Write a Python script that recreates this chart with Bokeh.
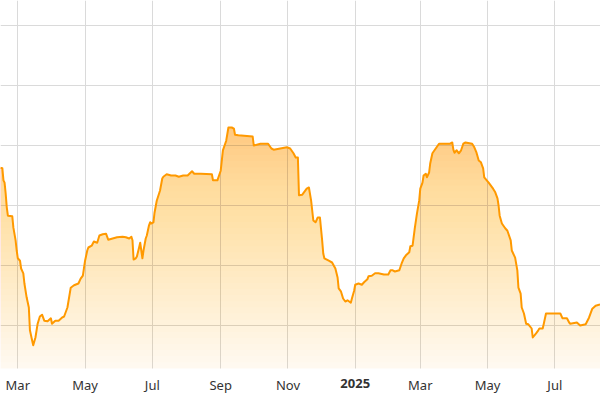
import numpy as np
import pandas as pd
from bokeh.plotting import figure
from bokeh.models import Range1d, FixedTicker, Label, BoxAnnotation
from bokeh.embed import file_html
from bokeh.resources import INLINE

# ---- data ----
dates_2024_a = [
    "2024-02-14", "2024-02-16", "2024-02-17", "2024-02-18", "2024-02-19", "2024-02-20",
    "2024-02-21", "2024-02-25", "2024-02-26", "2024-02-28", "2024-02-29",
    "2024-03-01", "2024-03-03", "2024-03-04", "2024-03-06", "2024-03-07", "2024-03-09",
    "2024-03-11", "2024-03-12", "2024-03-14", "2024-03-15", "2024-03-17", "2024-03-19",
    "2024-03-21", "2024-03-23", "2024-03-25", "2024-03-28", "2024-03-31",
    "2024-04-01", "2024-04-04", "2024-04-07", "2024-04-10", "2024-04-12", "2024-04-15",
    "2024-04-18", "2024-04-21", "2024-04-25", "2024-04-27", "2024-04-29",
    "2024-05-01", "2024-05-03", "2024-05-04", "2024-05-07", "2024-05-09", "2024-05-12",
    "2024-05-14", "2024-05-17", "2024-05-20", "2024-05-22", "2024-05-26", "2024-05-30",
    "2024-06-04", "2024-06-07", "2024-06-10", "2024-06-12", "2024-06-13", "2024-06-14",
    "2024-06-16", "2024-06-17", "2024-06-19", "2024-06-20", "2024-06-21", "2024-06-22",
    "2024-06-23", "2024-06-25", "2024-06-26", "2024-06-28", "2024-06-29", "2024-06-30",
]
values_2024_a = [
    36.3, 36.2, 34.2, 33.8, 32.0, 29.7,
    28.3, 28.2, 26.3, 24.2, 22.5,
    21.2, 20.8, 19.5, 18.7, 17.0, 14.7,
    13.0, 9.2, 7.5, 6.7, 8.0, 10.3,
    11.5, 11.8, 10.8, 10.7, 11.2,
    10.3, 10.8, 10.8, 11.3, 11.5, 13.0,
    16.3, 16.7, 17.0, 17.8, 18.3,
    20.8, 22.5, 23.0, 23.3, 24.0, 23.8,
    25.0, 25.2, 25.3, 24.3, 24.5, 24.7,
    24.8, 24.7, 24.5, 24.8, 24.2, 21.0,
    21.2, 21.5, 23.0, 23.8, 22.5, 21.2,
    22.5, 24.5, 25.0, 26.7, 27.2, 27.0,
]
dates_2024_b = [
    "2024-07-02", "2024-07-03", "2024-07-05", "2024-07-08", "2024-07-10", "2024-07-11",
    "2024-07-14", "2024-07-18", "2024-07-22", "2024-07-25", "2024-07-29",
    "2024-08-02", "2024-08-06", "2024-08-08", "2024-08-14", "2024-08-24", "2024-08-25",
    "2024-08-29",
    "2024-09-01", "2024-09-03", "2024-09-06", "2024-09-08", "2024-09-11", "2024-09-13",
    "2024-09-14", "2024-09-17", "2024-09-30",
    "2024-10-01", "2024-10-07", "2024-10-14", "2024-10-17", "2024-10-19", "2024-10-25",
    "2024-10-31",
    "2024-11-03", "2024-11-06", "2024-11-08", "2024-11-10", "2024-11-11", "2024-11-14",
    "2024-11-18", "2024-11-20", "2024-11-22", "2024-11-24", "2024-11-26", "2024-11-28",
    "2024-11-30",
    "2024-12-02", "2024-12-03", "2024-12-04", "2024-12-08", "2024-12-11", "2024-12-14",
    "2024-12-16", "2024-12-17", "2024-12-19", "2024-12-21", "2024-12-23", "2024-12-25",
    "2024-12-28", "2024-12-29", "2024-12-31",
]
values_2024_b = [
    27.2, 28.8, 30.8, 32.5, 34.5, 34.8,
    35.2, 35.0, 35.0, 34.8, 35.0,
    35.0, 35.7, 35.3, 35.3, 35.2, 34.2,
    34.2,
    35.8, 39.2, 40.8, 43.0, 43.0, 42.8,
    41.8, 41.7, 41.5,
    40.0, 40.3, 40.3, 39.5, 39.3, 39.5,
    39.7,
    39.5, 38.7, 38.0, 38.0, 31.7, 31.8,
    32.8, 33.0, 30.8, 27.5, 27.2, 28.0,
    28.0,
    24.2, 22.0, 21.2, 20.8, 20.5, 19.5,
    18.0, 16.2, 15.7, 14.5, 14.0, 14.2,
    13.8, 14.5, 15.8,
]
dates_2025 = [
    "2025-01-01", "2025-01-04", "2025-01-07", "2025-01-09", "2025-01-12", "2025-01-13",
    "2025-01-16", "2025-01-19", "2025-01-22", "2025-01-27", "2025-01-31",
    "2025-02-02", "2025-02-04", "2025-02-06", "2025-02-10", "2025-02-12", "2025-02-14",
    "2025-02-16", "2025-02-19", "2025-02-20", "2025-02-22", "2025-02-24", "2025-02-26",
    "2025-02-28",
    "2025-03-01", "2025-03-03", "2025-03-04", "2025-03-06", "2025-03-07", "2025-03-09",
    "2025-03-10", "2025-03-12", "2025-03-15", "2025-03-18", "2025-03-24", "2025-03-28",
    "2025-03-30", "2025-03-31",
    "2025-04-01", "2025-04-03", "2025-04-05", "2025-04-07", "2025-04-09", "2025-04-11",
    "2025-04-17", "2025-04-19", "2025-04-21", "2025-04-23", "2025-04-25", "2025-04-27",
    "2025-04-28",
    "2025-05-02", "2025-05-04", "2025-05-06", "2025-05-08", "2025-05-10", "2025-05-11",
    "2025-05-12", "2025-05-14", "2025-05-17", "2025-05-19", "2025-05-22", "2025-05-23",
    "2025-05-26", "2025-05-28", "2025-05-29", "2025-05-31",
    "2025-06-01", "2025-06-03", "2025-06-05", "2025-06-07", "2025-06-10", "2025-06-11",
    "2025-06-14", "2025-06-16", "2025-06-17", "2025-06-20", "2025-06-21", "2025-06-23",
    "2025-06-26",
    "2025-07-06", "2025-07-08", "2025-07-12", "2025-07-14", "2025-07-15", "2025-07-21",
    "2025-07-24", "2025-07-29",
    "2025-08-01", "2025-08-04", "2025-08-07", "2025-08-11",
]
values_2025 = [
    16.8, 17.0, 16.8, 17.2, 17.7, 18.2,
    18.3, 18.7, 18.7, 18.5, 18.5,
    19.2, 19.2, 19.0, 19.2, 20.3, 21.2,
    21.7, 22.2, 23.2, 23.3, 26.2, 28.7,
    30.8,
    32.8, 33.8, 35.0, 35.3, 34.7, 35.5,
    37.0, 38.7, 39.5, 40.3, 40.3, 40.3,
    40.5, 39.3,
    38.8, 39.2, 38.7, 39.2, 40.3, 40.5,
    40.3, 39.7, 38.8, 37.5, 37.2, 36.2,
    34.7,
    33.8, 33.3, 32.8, 32.2, 31.2, 30.0,
    28.3, 27.0, 26.2, 25.8, 24.2, 22.5,
    21.3, 19.2, 16.3, 15.3,
    13.0, 12.0, 10.3, 10.2, 9.5, 8.0,
    8.7, 9.2, 9.5, 9.5, 10.3, 12.0,
    12.0,
    12.0, 11.2, 11.2, 10.5, 10.3, 10.5,
    10.0, 10.2,
    11.3, 12.8, 13.3, 13.5,
]

tick_dates = ["2024-03-01", "2024-05-01", "2024-07-01", "2024-09-01", "2024-11-01",
              "2025-01-01", "2025-03-01", "2025-05-01", "2025-07-01"]
tick_labels = ["Mar", "May", "Jul", "Sep", "Nov", "2025", "Mar", "May", "Jul"]
year_label_index = 5
grid_values = [10, 20, 30, 40, 50, 60]

# ---- build ----
dates = dates_2024_a + dates_2024_b + dates_2025
values = values_2024_a + values_2024_b + values_2025
x = pd.to_datetime(dates).values
v = np.array(values, dtype=float)

def to_ms(s):
    return float(pd.Timestamp(s).value // 10**6)

tick_ms = [to_ms(d) for d in tick_dates]

LINE = "#ff9900"
FONT = "Noto Sans"
TEXT = "#333333"

base = 2.833          # value at the bottom edge of the plotting area
y_lo, y_hi = -2.5, 64.167

p = figure(width=600, height=400, x_axis_type="datetime", y_axis_location=None,
           x_range=Range1d(pd.Timestamp("2024-02-14 07:26"), pd.Timestamp("2025-08-11 10:19")),
           y_range=Range1d(y_lo, y_hi),
           output_backend="svg", toolbar_location=None,
           min_border_left=0, min_border_right=0, min_border_top=0, min_border_bottom=0)
p.outline_line_color = None
p.background_fill_color = "white"
p.border_fill_color = "white"

# grids
p.xgrid.ticker = FixedTicker(ticks=tick_ms)
p.ygrid.ticker = FixedTicker(ticks=grid_values)
for g in (p.xgrid, p.ygrid):
    g.grid_line_color = "#dadada"
    g.grid_line_width = 1

# white strip under the plotting area (label band)
p.add_layout(BoxAnnotation(top=base, fill_color="white", fill_alpha=1.0,
                           line_color=None, level="underlay"))

# vertical gradient fill, built from stacked translucent layers
N = 40
top_level = 43.5
levels = base + (top_level - base) * np.arange(N) / N
targets = 0.06 + 0.36 * np.arange(N) / (N - 1)
prev = 0.0
for lvl, a in zip(levels, targets):
    alpha = 1 - (1 - a) / (1 - prev)
    prev = a
    p.varea(x=x, y1=lvl, y2=np.maximum(v, lvl), fill_color=LINE, fill_alpha=alpha)

p.line(x, v, line_color=LINE, line_width=2, line_join="round")

# x axis drawn at the bottom edge of the plotting area
ax = p.xaxis[0]
ax.fixed_location = base
ax.ticker = FixedTicker(ticks=tick_ms)
overrides = {}
for i, (t, lab) in enumerate(zip(tick_ms, tick_labels)):
    overrides[t] = "" if i == year_label_index else lab
ax.major_label_overrides = overrides
ax.axis_line_color = None
ax.major_tick_line_color = None
ax.minor_tick_line_color = None
ax.major_tick_out = 0
ax.major_tick_in = 0
ax.major_label_standoff = 7
ax.major_label_text_font = FONT
ax.major_label_text_font_size = "13px"
ax.major_label_text_color = TEXT

p.add_layout(Label(x=tick_ms[year_label_index], y=17, x_units="data", y_units="screen",
                   text=tick_labels[year_label_index], text_align="center",
                   text_baseline="middle", text_font=FONT, text_font_size="13px",
                   text_font_style="bold", text_color=TEXT))

open("out.html", "w").write(file_html(p, INLINE))
